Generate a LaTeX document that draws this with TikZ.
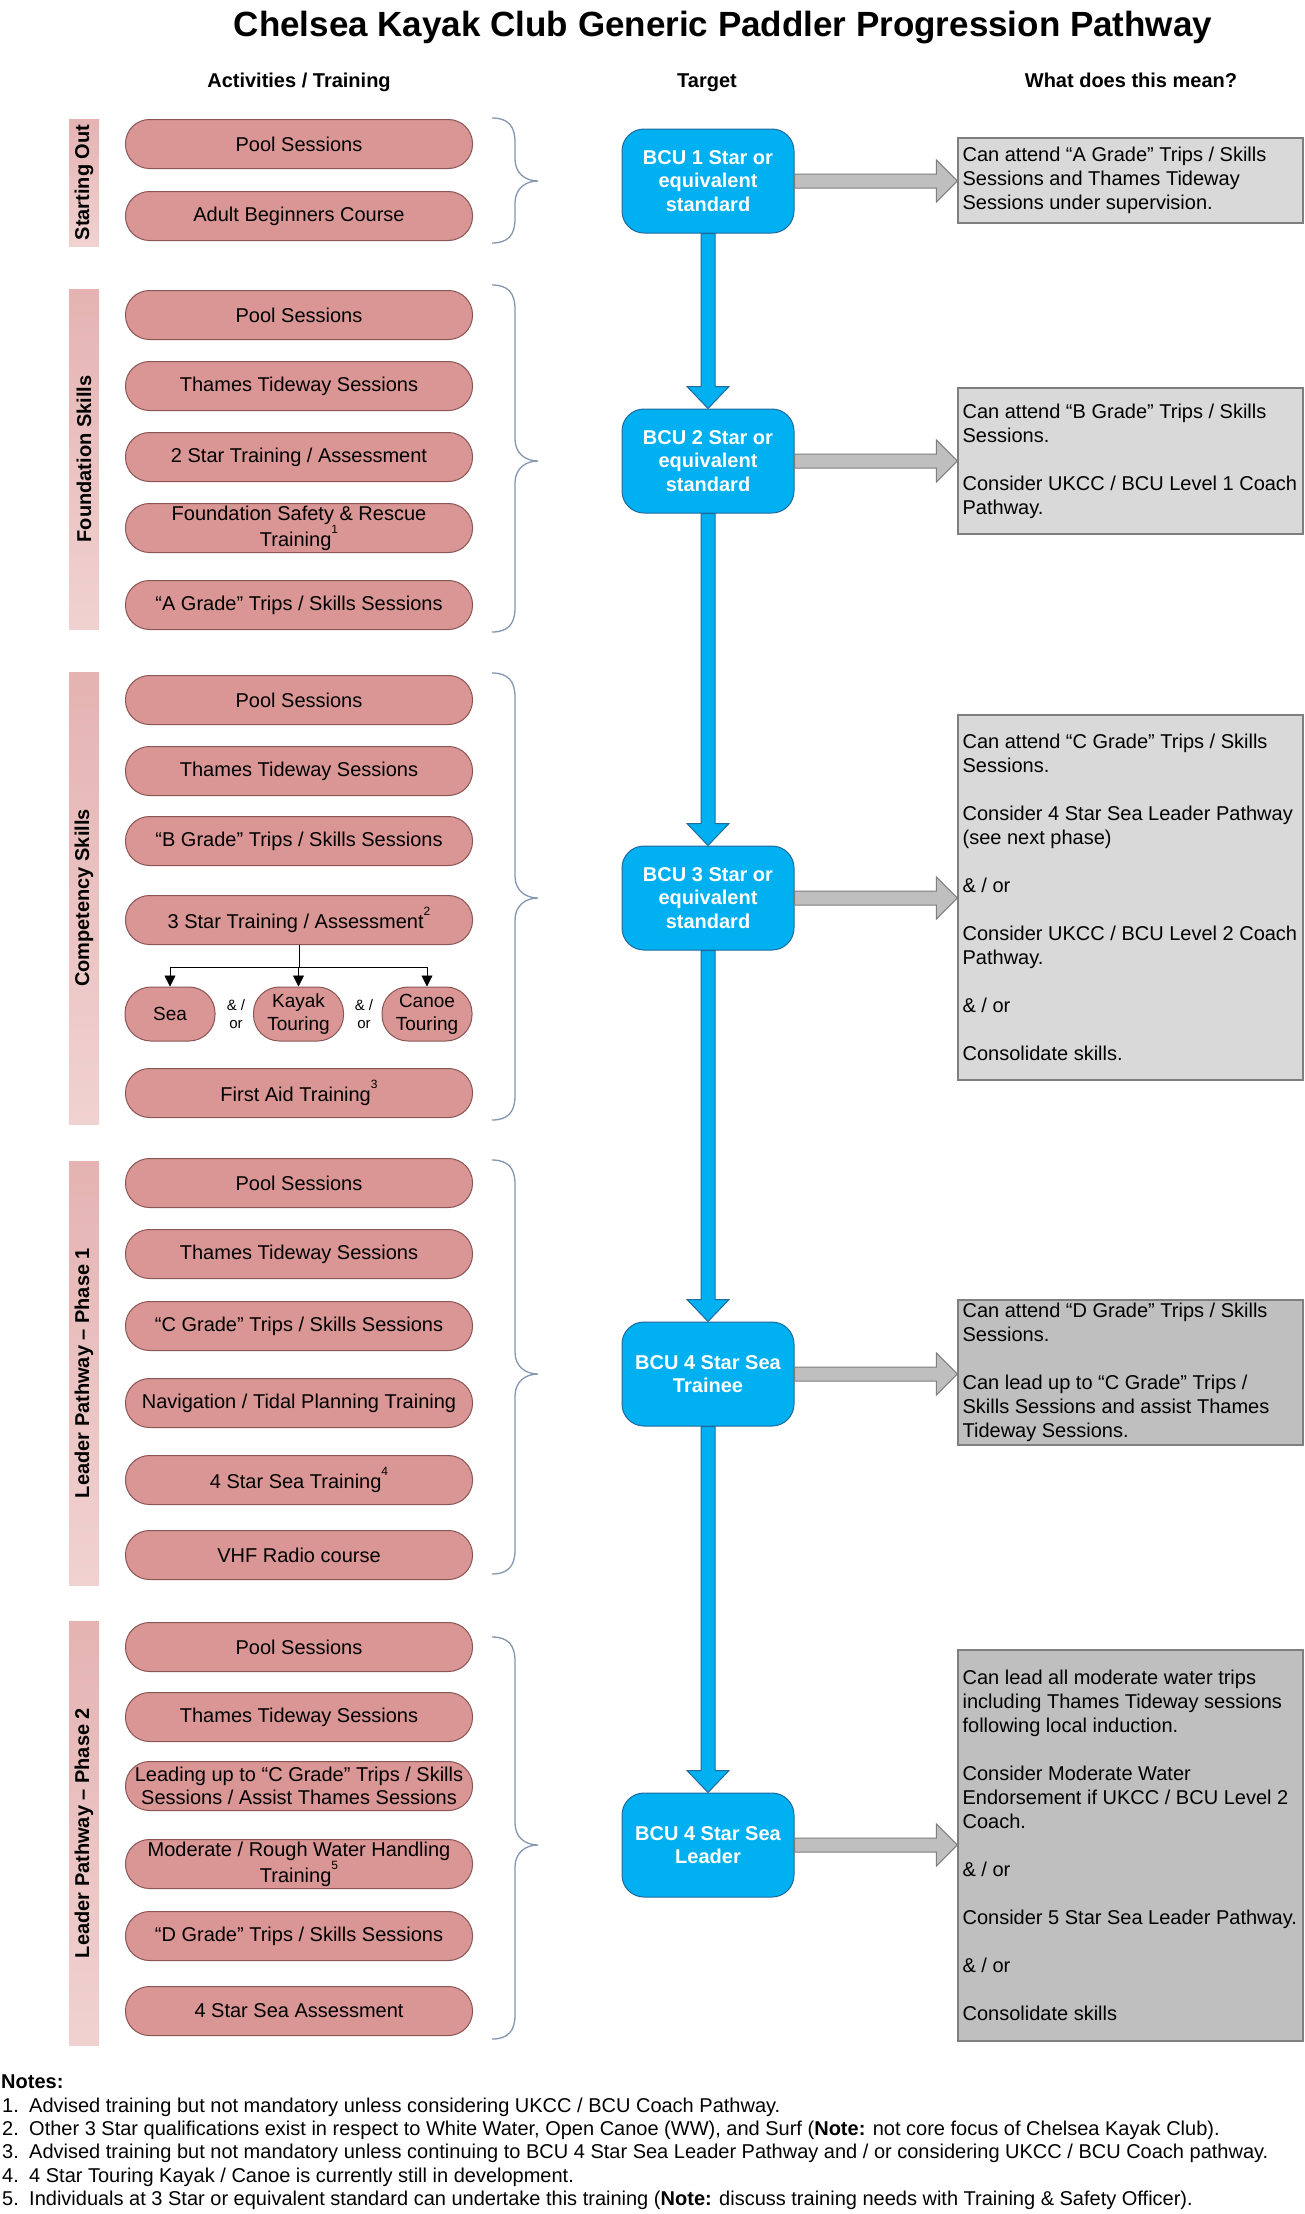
\documentclass[tikz,border=0pt]{standalone}
\usepackage{fontspec}
\setmainfont{Liberation Sans}
\usetikzlibrary{calc,arrows.meta}
\definecolor{pillfill}{HTML}{D99694}
\definecolor{pilldraw}{HTML}{8A5554}
\definecolor{bartop}{HTML}{E4B3B2}
\definecolor{barbot}{HTML}{F0D2D1}
\definecolor{bluefill}{HTML}{00B0F0}
\definecolor{bluedraw}{HTML}{1F6A9E}
\definecolor{boxlight}{HTML}{D9D9D9}
\definecolor{boxdark}{HTML}{BFBFBF}
\definecolor{boxdraw}{HTML}{7F7F7F}
\definecolor{arrfill}{HTML}{BFBFBF}
\definecolor{bracecol}{HTML}{8496B0}
\newcommand\fnsup[1]{\raisebox{0.62em}{\fontsize{12}{12}\selectfont #1}}
\tikzset{
 pill/.style={draw=pilldraw, fill=pillfill, line width=1pt, rounded corners=24pt, minimum width=347pt, minimum height=49pt, inner sep=0pt, align=center, font=\fontsize{20}{23}\selectfont},
 smallpill/.style={pill, minimum width=90pt, minimum height=54pt, rounded corners=26pt, font=\fontsize{19}{23}\selectfont},
 sidebar/.style={top color=bartop, bottom color=barbot, draw=none, minimum width=30pt, inner sep=0pt},
 sidelabel/.style={rotate=90, inner sep=0pt, font=\fontsize{20}{24}\selectfont\bfseries},
 bluebox/.style={draw=bluedraw, fill=bluefill, line width=1pt, rounded corners=22pt, minimum width=172pt, minimum height=104pt, inner sep=0pt, align=center, text=white, font=\fontsize{20}{23.5}\selectfont\bfseries},
 graybox/.style={draw=boxdraw, line width=1.2pt, minimum width=345pt, inner sep=0pt},
 graytext/.style={anchor=west, align=left, inner sep=0pt, font=\fontsize{20}{24}\selectfont},
 grayarr/.style={draw=boxdraw, fill=arrfill, line width=1pt},
 bluearr/.style={draw=bluedraw, fill=bluefill, line width=1pt},
 bracestyle/.style={draw=bracecol, line width=1.3pt},
 header/.style={font=\fontsize{20}{24}\selectfont\bfseries, anchor=base, inner sep=0pt},
 noteline/.style={anchor=base west, inner sep=0pt, font=\fontsize{20}{24}\selectfont},
 andor/.style={align=center, font=\fontsize{15}{18}\selectfont, inner sep=0pt},
 splitline/.style={draw=black, line width=0.8pt},
}
\newcommand\bluedown[2]{%
 \path[bluearr] let \p1=(#1.south), \p2=(#2.north) in
 (\x1-7pt,\y1) -- (\x1-7pt,\y2+22pt) -- (\x1-21pt,\y2+22pt) -- (\x1,\y2) -- (\x1+21pt,\y2+22pt) -- (\x1+7pt,\y2+22pt) -- (\x1+7pt,\y1) -- cycle;}
\newcommand\grayright[2]{%
 \path[grayarr] let \p1=(#1.east), \p2=(#2.west) in
 (\x1,\y1+7pt) -- (\x2-21pt,\y1+7pt) -- (\x2-21pt,\y1+21pt) -- (\x2,\y1) -- (\x2-21pt,\y1-21pt) -- (\x2-21pt,\y1-7pt) -- (\x1,\y1-7pt) -- cycle;}
\newcommand\sidebrace[3]{%
 \draw[bracestyle] (492,#1) .. controls (508,#1) and (515,#1+8) .. (515,#1+24) -- (515,#3-22) .. controls (515,#3-8) and (525,#3) .. (538,#3) .. controls (525,#3) and (515,#3+8) .. (515,#3+22) -- (515,#2-24) .. controls (515,#2-8) and (508,#2) .. (492,#2);}
\begin{document}
\begin{tikzpicture}[x=1pt,y=-1pt]
\useasboundingbox (0,0) rectangle (1305,2214);
\fill[white] (0,0) rectangle (1305,2214);

% title and headers
\node[font=\fontsize{35}{40}\selectfont\bfseries, anchor=base, inner sep=0pt] (title) at (723,36) {Chelsea Kayak Club Generic Paddler Progression Pathway};
\node[header] (h1) at (299,87) {Activities / Training};
\node[header] (h2) at (707,87) {Target};
\node[header] (h3) at (1131,87) {What does this mean?};

% side bars
\node[sidebar, minimum height=127pt] (so) at (84,182.5) {};
\node[sidelabel] (sol) at (so) {Starting Out};
\node[sidebar, minimum height=340pt] (fs) at (84,459) {};
\node[sidelabel] (fsl) at (fs) {Foundation Skills};
\node[sidebar, minimum height=452pt] (cs) at (84,898) {};
\node[sidelabel] (csl) at (cs) {Competency Skills};
\node[sidebar, minimum height=424pt] (lp1) at (84,1373) {};
\node[sidelabel] (lp1l) at (lp1) {Leader Pathway – Phase 1};
\node[sidebar, minimum height=424pt] (lp2) at (84,1833) {};
\node[sidelabel] (lp2l) at (lp2) {Leader Pathway – Phase 2};

% Starting out
\node[pill] (a1) at (299,144) {Pool Sessions};
\node[pill] (a2) at (299,216) {Adult Beginners Course};
% Foundation
\node[pill] (b1) at (299,315) {Pool Sessions};
\node[pill] (b2) at (299,386) {Thames Tideway Sessions};
\node[pill] (b3) at (299,457) {2 Star Training / Assessment};
\node[pill] (b4) at (299,528) {Foundation Safety \& Rescue\\Training\fnsup{1}};
\node[pill] (b5) at (299,605) {“A Grade” Trips / Skills Sessions};
% Competency
\node[pill] (c1) at (299,700) {Pool Sessions};
\node[pill] (c2) at (299,771) {Thames Tideway Sessions};
\node[pill] (c3) at (299,841) {“B Grade” Trips / Skills Sessions};
\node[pill] (c4) at (299,920) {3 Star Training / Assessment\fnsup{2}};
\node[smallpill] (sea) at (170,1014) {Sea};
\node[smallpill] (kayak) at (298.5,1014) {Kayak\\Touring};
\node[smallpill] (canoe) at (427,1014) {Canoe\\Touring};
\node[andor] (ao1) at (236,1014) {\& /\\or};
\node[andor] (ao2) at (364,1014) {\& /\\or};
\node[pill] (c6) at (299,1093) {First Aid Training\fnsup{3}};
\coordinate (split) at (299,967);
\draw[splitline] (c4.south) -- (c4.south |- split);
\draw[splitline] (sea.north |- split) -- (canoe.north |- split);
\foreach \n in {sea,kayak,canoe}
  \draw[splitline, -{Triangle[width=11pt,length=11pt]}] (\n.north |- split) -- (\n.north);
% Leader phase 1
\node[pill] (d1) at (299,1183) {Pool Sessions};
\node[pill] (d2) at (299,1254) {Thames Tideway Sessions};
\node[pill] (d3) at (299,1326) {“C Grade” Trips / Skills Sessions};
\node[pill] (d4) at (299,1403) {Navigation / Tidal Planning Training};
\node[pill] (d5) at (299,1480) {4 Star Sea Training\fnsup{4}};
\node[pill] (d6) at (299,1555) {VHF Radio course};
% Leader phase 2
\node[pill] (e1) at (299,1647) {Pool Sessions};
\node[pill] (e2) at (299,1717) {Thames Tideway Sessions};
\node[pill] (e3) at (299,1786) {Leading up to “C Grade” Trips / Skills\\Sessions / Assist Thames Sessions};
\node[pill] (e4) at (299,1864) {Moderate / Rough Water Handling\\Training\fnsup{5}};
\node[pill] (e5) at (299,1936) {“D Grade” Trips / Skills Sessions};
\node[pill] (e6) at (299,2011) {4 Star Sea Assessment};

% braces
\sidebrace{118}{243}{181}
\sidebrace{285}{632}{461}
\sidebrace{673}{1120}{898}
\sidebrace{1160}{1574}{1374}
\sidebrace{1637}{2039}{1845}

% target boxes
\node[bluebox] (t1) at (708,181) {BCU 1 Star or\\equivalent\\standard};
\node[bluebox] (t2) at (708,461) {BCU 2 Star or\\equivalent\\standard};
\node[bluebox] (t3) at (708,898) {BCU 3 Star or\\equivalent\\standard};
\node[bluebox] (t4) at (708,1374) {BCU 4 Star Sea\\Trainee};
\node[bluebox] (t5) at (708,1845) {BCU 4 Star Sea\\Leader};
\bluedown{t1}{t2}
\bluedown{t2}{t3}
\bluedown{t3}{t4}
\bluedown{t4}{t5}

% meaning boxes
\node[graybox, fill=boxlight, minimum height=85pt] (g1) at (1130.5,180.5) {};
\node[graybox, fill=boxlight, minimum height=146pt] (g2) at (1130.5,461) {};
\node[graybox, fill=boxlight, minimum height=365pt] (g3) at (1130.5,897.5) {};
\node[graybox, fill=boxdark, minimum height=145pt] (g4) at (1130.5,1372.5) {};
\node[graybox, fill=boxdark, minimum height=391pt] (g5) at (1130.5,1845.5) {};
\grayright{t1}{g1}
\grayright{t2}{g2}
\grayright{t3}{g3}
\grayright{t4}{g4}
\grayright{t5}{g5}

\node[graytext] (m1) at ($(g1.west)+(5,0)$) {Can attend “A Grade” Trips / Skills\\Sessions and Thames Tideway\\Sessions under supervision.};
\node[graytext] (m2) at ($(g2.west)+(5,0)$) {Can attend “B Grade” Trips / Skills\\Sessions.\\[24pt]Consider UKCC / BCU Level 1 Coach\\Pathway.};
\node[graytext] (m3) at ($(g3.west)+(5,0)$) {Can attend “C Grade” Trips / Skills\\Sessions.\\[24pt]Consider 4 Star Sea Leader Pathway\\(see next phase)\\[24pt]\& / or\\[24pt]Consider UKCC / BCU Level 2 Coach\\Pathway.\\[24pt]\& / or\\[24pt]Consolidate skills.};
\node[graytext] (m4) at ($(g4.west)+(5,0)$) {Can attend “D Grade” Trips / Skills\\Sessions.\\[24pt]Can lead up to “C Grade” Trips /\\Skills Sessions and assist Thames\\Tideway Sessions.};
\node[graytext] (m5) at ($(g5.west)+(5,0)$) {Can lead all moderate water trips\\including Thames Tideway sessions\\following local induction.\\[24pt]Consider Moderate Water\\Endorsement if UKCC / BCU Level 2\\Coach.\\[24pt]\& / or\\[24pt]Consider 5 Star Sea Leader Pathway.\\[24pt]\& / or\\[24pt]Consolidate skills};

% notes
\node[noteline, font=\fontsize{20}{24}\selectfont\bfseries] (nh) at (1,2088) {Notes:};
\node[noteline] (n1) at (2,2112) {\makebox[27pt][l]{1.}Advised training but not mandatory unless considering UKCC / BCU Coach Pathway.};
\node[noteline] (n2) at (2,2135) {\makebox[27pt][l]{2.}Other 3 Star qualifications exist in respect to White Water, Open Canoe (WW), and Surf (\textbf{Note:} not core focus of Chelsea Kayak Club).};
\node[noteline] (n3) at (2,2158) {\makebox[27pt][l]{3.}Advised training but not mandatory unless continuing to BCU 4 Star Sea Leader Pathway and / or considering UKCC / BCU Coach pathway.};
\node[noteline] (n4) at (2,2182) {\makebox[27pt][l]{4.}4 Star Touring Kayak / Canoe is currently still in development.};
\node[noteline] (n5) at (2,2205) {\makebox[27pt][l]{5.}Individuals at 3 Star or equivalent standard can undertake this training (\textbf{Note:} discuss training needs with Training \& Safety Officer).};
\end{tikzpicture}
\end{document}
